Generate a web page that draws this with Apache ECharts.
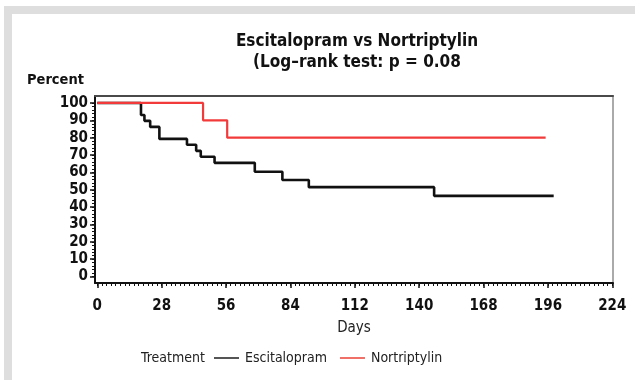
<!DOCTYPE html>
<html><head><meta charset="utf-8">
<script src="https://cdn.jsdelivr.net/npm/echarts@6/dist/echarts.min.js"></script>
<style>html,body{margin:0;padding:0;background:#fff}#c{width:635px;height:380px}</style>
</head><body><div id="c"></div>
<script>
const FONT = "'DejaVu Sans Condensed','Roboto',sans-serif";
const titleLines = ["Escitalopram vs Nortriptylin", "(Log–rank test: p = 0.08"];
const seriesNames = ["Escitalopram", "Nortriptylin"];
const legendTitle = "Treatment";
const xTickLabels = [0, 28, 56, 84, 112, 140, 168, 196, 224];
const yTickLabels = [0, 10, 20, 30, 40, 50, 60, 70, 80, 90, 100];
// Kaplan-Meier step points [day, percent]
const escitalopramDays = [0, 19, 20.5, 23, 27, 39, 43, 45, 51, 68.5, 80.5, 92, 146.5, 198.5];
const escitalopramPct  = [100, 93.1, 89.7, 86.2, 79.3, 75.9, 72.4, 69.0, 65.5, 60.4, 55.6, 51.5, 46.5, 46.5];
const nortriptylinDays = [0, 46, 56.5, 195];
const nortriptylinPct  = [100, 90, 80, 80];

const xMinor = []; for (let d = 0; d <= 224; d += 2) xMinor.push(d);
const yMinor = []; for (let v = 0; v <= 100; v += 2) yMinor.push(v);
const zip = (a, b) => a.map((v, i) => [v, b[i]]);

const chart = echarts.init(document.getElementById('c'), null, {renderer: 'canvas'});
const XMIN = -1, XMAX = 224.3, YMIN = -3.7, YMAX = 104;
chart.setOption({
  animation: false,
  backgroundColor: '#fff',
  textStyle: {fontFamily: FONT},
  title: {
    text: titleLines.join('\n'), left: 352, textAlign: 'center', top: 26,
    textStyle: {fontFamily: FONT, fontSize: 17, fontWeight: 'bold', color: '#111', lineHeight: 21}
  },
  grid: {left: 95, right: 22, top: 96, bottom: 97},
  xAxis: [{
    type: 'value', min: XMIN, max: XMAX, position: 'bottom',
    name: 'Days', nameLocation: 'middle', nameGap: 38,
    nameTextStyle: {fontFamily: FONT, fontSize: 15, color: '#222'},
    axisLine: {show: true, onZero: false, lineStyle: {color: '#111', width: 2}},
    axisTick: {show: true, customValues: xTickLabels, length: 5, lineStyle: {color: '#111', width: 1.5}},
    axisLabel: {customValues: xTickLabels, fontFamily: FONT, fontSize: 15, fontWeight: 'bold', color: '#111', margin: 16},
    splitLine: {show: false}
  }, {
    type: 'value', min: XMIN, max: XMAX, position: 'bottom',
    axisLine: {show: false, onZero: false},
    axisTick: {show: true, customValues: xMinor, length: 3, lineStyle: {color: '#111', width: 1}},
    axisLabel: {show: false}, splitLine: {show: false}
  }, {
    type: 'value', min: XMIN, max: XMAX, position: 'top',
    axisLine: {show: true, onZero: false, lineStyle: {color: '#4a4a4a', width: 2}},
    axisTick: {show: false}, axisLabel: {show: false}, splitLine: {show: false}
  }],
  yAxis: [{
    type: 'value', min: YMIN, max: YMAX, position: 'left',
    name: 'Percent', nameLocation: 'end', nameGap: 8,
    nameTextStyle: {fontFamily: FONT, fontSize: 14.5, fontWeight: 'bold', color: '#111', align: 'left', padding: [0, 0, 0, -68]},
    axisLine: {show: true, onZero: false, lineStyle: {color: '#111', width: 2}},
    axisTick: {show: true, customValues: yTickLabels, length: 5, lineStyle: {color: '#111', width: 1.5}},
    axisLabel: {customValues: yTickLabels, fontFamily: FONT, fontSize: 15, fontWeight: 'bold', color: '#111', margin: 7},
    splitLine: {show: false}
  }, {
    type: 'value', min: YMIN, max: YMAX, position: 'left',
    axisLine: {show: false, onZero: false},
    axisTick: {show: true, customValues: yMinor, length: 3, lineStyle: {color: '#111', width: 1}},
    axisLabel: {show: false}, splitLine: {show: false}
  }, {
    type: 'value', min: YMIN, max: YMAX, position: 'right',
    axisLine: {show: true, onZero: false, lineStyle: {color: '#aaaaaa', width: 2}},
    axisTick: {show: false}, axisLabel: {show: false}, splitLine: {show: false}
  }],
  legend: {
    left: 214, top: 351, padding: 0, itemWidth: 25, itemHeight: 2, itemGap: 13, icon: 'rect',
    textStyle: {fontFamily: FONT, fontSize: 14, color: '#222', padding: [0, 0, 0, 1]},
    data: [
      {name: seriesNames[0], itemStyle: {color: '#555'}},
      {name: seriesNames[1], itemStyle: {color: '#f07068'}}
    ]
  },
  graphic: [
    {type: 'rect', shape: {x: 4, y: 6, width: 631, height: 8}, style: {fill: '#dedede'}, silent: true},
    {type: 'rect', shape: {x: 4, y: 6, width: 8, height: 374}, style: {fill: '#dedede'}, silent: true},
    {type: 'text', x: 141, y: 358, style: {text: legendTitle, font: "14px " + FONT, fill: '#222', verticalAlign: 'middle'}}
  ],
  series: [
    {name: seriesNames[0], type: 'line', step: 'end', symbol: 'none',
     xAxisIndex: 0, yAxisIndex: 0,
     lineStyle: {color: '#111', width: 2.6}, itemStyle: {color: '#111'},
     data: zip(escitalopramDays, escitalopramPct)},
    {name: seriesNames[1], type: 'line', step: 'end', symbol: 'none',
     xAxisIndex: 0, yAxisIndex: 0,
     lineStyle: {color: '#f23a3a', width: 2.2}, itemStyle: {color: '#f23a3a'},
     data: zip(nortriptylinDays, nortriptylinPct)}
  ]
});
</script></body></html>
